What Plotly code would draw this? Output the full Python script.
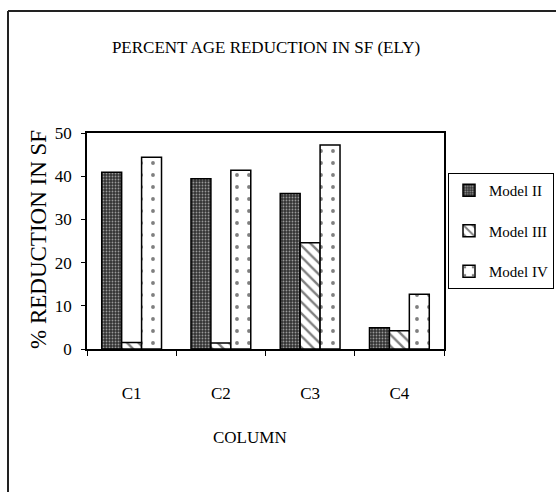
import plotly.graph_objects as go

categories = ["C1", "C2", "C3", "C4"]
model_ii = [40.9, 39.4, 36.0, 4.9]
model_iii = [1.5, 1.4, 24.6, 4.2]
model_iv = [44.4, 41.4, 47.2, 12.7]
y_ticks = [0, 10, 20, 30, 40, 50]

FONT = "Liberation Serif"

# plot area pixel geometry
L, R, T, B = 87, 444, 133, 349
W, H = 556, 492
pw, ph = R - L, B - T


def px_x(x):
    return (x - L) / pw


def px_y(y):
    return (B - y) / ph


fig = go.Figure()
fig.add_trace(go.Bar(
    name="Model II", x=categories, y=model_ii, legendgroup="a",
    marker=dict(color="#333", line=dict(color="black", width=1.5),
                pattern=dict(shape=".", size=3, solidity=0.3, fgcolor="white", bgcolor="#333")),
))
fig.add_trace(go.Bar(
    name="Model III", x=categories, y=model_iii, legendgroup="b",
    marker=dict(color="white", line=dict(color="black", width=1.5),
                pattern=dict(shape="\\", size=8, solidity=0.3, fgcolor="black", bgcolor="white")),
))
fig.add_trace(go.Bar(
    name="Model IV", x=categories, y=model_iv, legendgroup="c",
    marker=dict(color="white", line=dict(color="black", width=1.5),
                pattern=dict(shape=".", size=12, solidity=0.08, fgcolor="black", bgcolor="white")),
))

fig.update_layout(
    width=W, height=H,
    margin=dict(l=L, r=W - R, t=T, b=H - B, pad=0, autoexpand=False),
    paper_bgcolor="white", plot_bgcolor="white",
    barmode="group", bargap=0.33, bargroupgap=0,
    font=dict(family=FONT, size=16, color="black"),
    title=dict(text="PERCENT AGE REDUCTION IN SF (ELY)", x=266 / W,
               xanchor="center", y=1 - 47 / H, yanchor="middle",
               font=dict(family=FONT, size=17, color="black")),
    showlegend=True,
    legend=dict(x=px_x(448), y=px_y(173), xanchor="left", yanchor="top",
                bordercolor="black", borderwidth=1, bgcolor="white",
                font=dict(family=FONT, size=15, color="black"),
                tracegroupgap=18, itemwidth=30),
    xaxis=dict(showline=True, linecolor="black", linewidth=1.5, mirror=True,
               ticks="outside", ticklen=5, tickcolor="black", tickson="boundaries",
               ticklabelstandoff=28, showgrid=False,
               tickfont=dict(family=FONT, size=17, color="black")),
    yaxis=dict(range=[0, 50], tickvals=y_ticks, showline=True, linecolor="black",
               linewidth=1.5, mirror=True, ticks="outside", ticklen=4, tickcolor="black",
               showgrid=False, zeroline=False, ticklabelstandoff=6,
               tickfont=dict(family=FONT, size=17, color="black")),
)

fig.add_annotation(text="COLUMN", xref="paper", yref="paper", x=px_x(250), y=px_y(437),
                   showarrow=False, xanchor="center", yanchor="middle",
                   font=dict(family=FONT, size=17, color="black"))
fig.add_annotation(text="% REDUCTION IN SF", xref="paper", yref="paper", x=px_x(38), y=px_y(240),
                   showarrow=False, xanchor="center", yanchor="middle", textangle=-90,
                   font=dict(family=FONT, size=23, color="black"))

# outer chart frame (top and left edges)
fig.add_shape(type="line", xref="paper", yref="paper", x0=px_x(8), x1=px_x(556),
              y0=px_y(11), y1=px_y(11), line=dict(color="#222", width=2))
fig.add_shape(type="line", xref="paper", yref="paper", x0=px_x(8), x1=px_x(8),
              y0=px_y(11), y1=px_y(492), line=dict(color="#222", width=2))

fig.write_html("out.html")
